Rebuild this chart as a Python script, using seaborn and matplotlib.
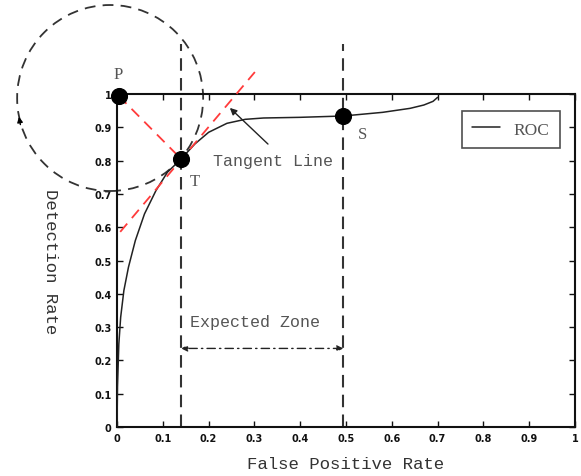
import matplotlib
matplotlib.use("Agg")
import matplotlib.pyplot as plt
import seaborn as sns
import numpy as np
import pandas as pd
from matplotlib.patches import Ellipse

# ROC curve
fpr = [0, 0.001, 0.004, 0.008, 0.015, 0.025, 0.04, 0.06, 0.085, 0.11, 0.14,
       0.17, 0.2, 0.24, 0.28, 0.32, 0.4, 0.494, 0.58, 0.64, 0.67, 0.69, 0.7]
tpr = [0, 0.12, 0.25, 0.33, 0.41, 0.48, 0.56, 0.64, 0.71, 0.765, 0.805,
       0.85, 0.885, 0.912, 0.924, 0.928, 0.93, 0.934, 0.945, 0.957, 0.967, 0.978, 0.99]

# marked points P, T, S
pt_names = ["P", "T", "S"]
pt_x = [0.004, 0.14, 0.494]
pt_y = [0.994, 0.805, 0.934]

# tangent line ends
tan_x = [0.007, 0.301]
tan_y = [0.586, 1.066]

ticks = [0, 0.1, 0.2, 0.3, 0.4, 0.5, 0.6, 0.7, 0.8, 0.9, 1]
tick_labels = ["0", "0.1", "0.2", "0.3", "0.4", "0.5", "0.6", "0.7", "0.8", "0.9", "1"]

sns.set_style("ticks")
plt.rcParams["font.family"] = ["Liberation Mono", "DejaVu Sans Mono"]

fig = plt.figure(figsize=(5.81, 4.77), dpi=100)
ax = fig.add_axes([0.2014, 0.1027, 0.7883, 0.6981])

roc = pd.DataFrame({"fpr": fpr, "tpr": tpr})
sns.lineplot(data=roc, x="fpr", y="tpr", color="#222222", lw=1.1, ax=ax,
             label="ROC", sort=False, zorder=3)

gray = "#333333"
# vertical dashed lines
for xv in [pt_x[1], pt_x[2]]:
    ax.plot([xv, xv], [0, 1.15], ls=(0, (6, 3.5)), color=gray, lw=1.5,
            clip_on=False, zorder=2)

# red dashed lines
red = "#ff3b3b"
ax.plot(tan_x, tan_y, ls=(0, (6, 4)), color=red, lw=1.3, clip_on=False, zorder=4)
ax.plot([pt_x[0], pt_x[1]], [pt_y[0], pt_y[1]], ls=(0, (6, 4)), color=red, lw=1.3,
        clip_on=False, zorder=4)

# circle around P through T
circ = Ellipse((-0.015, 0.988), width=2 * 93 / 458, height=2 * 93 / 333,
               fill=False, ls=(0, (6, 4)), ec=gray, lw=1.3, clip_on=False, zorder=2)
ax.add_patch(circ)
ax.annotate("", xy=(-0.215, 0.94), xytext=(-0.21, 0.9),
            arrowprops=dict(arrowstyle="-|>", color="black", lw=1, mutation_scale=8),
            annotation_clip=False)

pts = pd.DataFrame({"x": pt_x, "y": pt_y, "name": pt_names})
sns.scatterplot(data=pts, x="x", y="y", color="black", s=130, ax=ax,
                edgecolor="black", zorder=6, clip_on=False, legend=False)

txt_color = "#555555"
ax.text(0.002, 1.06, "P", fontsize=12, color=txt_color, ha="center", va="center",
        family=["Liberation Serif"])
ax.text(0.17, 0.74, "T", fontsize=12, color=txt_color, ha="center", va="center",
        family=["Liberation Serif"])
ax.text(0.535, 0.88, "S", fontsize=12, color=txt_color, ha="center", va="center",
        family=["Liberation Serif"])

ax.text(0.21, 0.80, "Tangent Line", fontsize=12, color=txt_color, va="center")
ax.annotate("", xy=(0.242, 0.964), xytext=(0.334, 0.844),
            arrowprops=dict(arrowstyle="-|>", color="#222222", lw=1, mutation_scale=10))

ax.text(0.159, 0.316, "Expected Zone", fontsize=12, color=txt_color, va="center")
ax.annotate("", xy=(pt_x[1], 0.236), xytext=(pt_x[2], 0.236),
            arrowprops=dict(arrowstyle="<|-|>", color="#222222", lw=1,
                            ls=(0, (6, 3, 1, 3)), mutation_scale=9, shrinkA=0, shrinkB=0))

ax.set_xlim(0, 1)
ax.set_ylim(0, 1)
ax.set_xticks(ticks)
ax.set_xticklabels(tick_labels)
ax.set_yticks(ticks)
ax.set_yticklabels(tick_labels)
for lab in ax.get_xticklabels() + ax.get_yticklabels():
    lab.set_family(["DejaVu Sans"])
    lab.set_fontweight("bold")
    lab.set_fontsize(7)
ax.tick_params(direction="in", length=4, width=1, top=True, right=True,
               labeltop=False, labelright=False, pad=4, colors="#111111")
for sp in ax.spines.values():
    sp.set_visible(True)
    sp.set_linewidth(1.5)
    sp.set_color("#111111")

ax.set_xlabel("False Positive Rate", fontsize=12.5, color="#333333", labelpad=10)
ax.set_ylabel("")
fig.text(50 / 581, 1 - 262 / 477, "Detection Rate", rotation=-90, fontsize=12.5,
         color="#333333", ha="center", va="center")

leg = ax.legend(loc="upper right", bbox_to_anchor=(0.967, 0.949), frameon=True,
                fancybox=False, handlelength=1.6, borderpad=0.6, borderaxespad=0,
                prop={"family": ["Liberation Serif"], "size": 12.5})
leg.get_frame().set_edgecolor("#222222")
leg.get_frame().set_linewidth(1.2)
for t in leg.get_texts():
    t.set_color(txt_color)

fig.savefig("out.png", dpi=100)
